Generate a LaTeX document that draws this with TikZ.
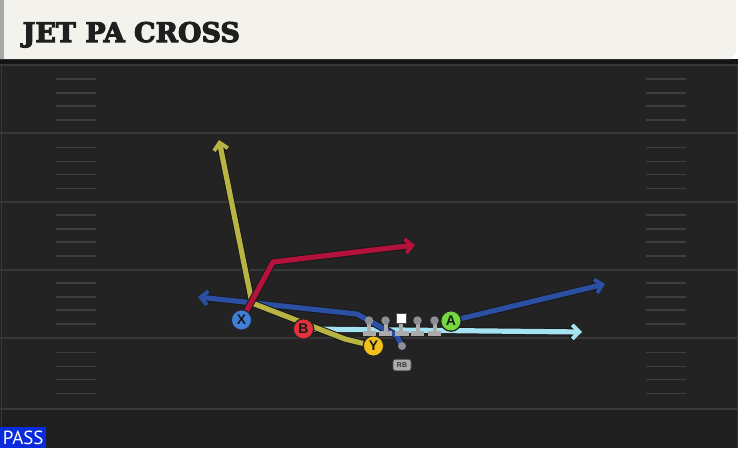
\documentclass[tikz,border=0pt]{standalone}
\usepackage{fontspec}
\usetikzlibrary{arrows.meta}
\newfontfamily\titlefont{DejaVu Serif}[BoldFeatures={FakeBold=4}]
\newfontfamily\markfont{Liberation Sans}
\newfontfamily\passfont{PT Sans}

\definecolor{fieldbg}{HTML}{232323}
\definecolor{fielddark}{HTML}{1F1F1F}
\definecolor{headbg}{HTML}{F4F2EC}
\definecolor{headedge}{HTML}{A8A8A8}
\definecolor{yardgrey}{HTML}{383838}
\definecolor{hashgrey}{HTML}{3E3E3E}
\definecolor{routeyellow}{HTML}{B8B443}
\definecolor{routered}{HTML}{B3123A}
\definecolor{routeblue}{HTML}{2B4FA3}
\definecolor{routecyan}{HTML}{A6E3F0}
\definecolor{dotblue}{HTML}{3F7FD8}
\definecolor{dotred}{HTML}{E2333D}
\definecolor{dotyellow}{HTML}{F2C21B}
\definecolor{dotgreen}{HTML}{74D93F}
\definecolor{olgrey}{HTML}{ABABAB}
\definecolor{olhead}{HTML}{8E8E96}
\definecolor{passblue}{HTML}{0A2BDC}

\pgfdeclarelayer{field}
\pgfdeclarelayer{routes}
\pgfsetlayers{field,routes,main}

\tikzset{
  route/.style={draw=#1, line width=5.2pt, line join=round,
    preaction={draw=black!90, line width=7.2pt}},
  tip/.style={-{Straight Barb[length=7pt, width=14pt, line width=0pt 0.75]}},
  player/.style={circle, draw=black!85, line width=1.3pt, inner sep=0pt,
    minimum size=20.5pt, text=black!90,
    font=\markfont\bfseries\fontsize{14}{14}\selectfont},
  olman/.style={circle, fill=olhead, inner sep=0pt, minimum size=8.5pt},
  snapbox/.style={rectangle, fill=white, draw=black!70, line width=0.5pt,
    inner sep=0pt, minimum size=10pt},
  rbtag/.style={rectangle, rounded corners=2.5pt, fill=olgrey, draw=black!70,
    line width=0.6pt, inner sep=0pt, minimum width=18pt, minimum height=11.5pt,
    text=black!80, font=\markfont\bfseries\fontsize{7}{7}\selectfont},
  passbox/.style={rectangle, fill=passblue, text=white, inner sep=0pt,
    minimum width=46pt, minimum height=20.5pt,
    font=\passfont\fontsize{19}{19}\selectfont}
}

\newcommand{\yardline}[1]{
\draw [yardgrey, line width=2pt] (0,#1) -- (738,#1);
}
\newcommand{\hashmark}[1]{
\draw [hashgrey, line width=1.6pt] (56,#1) -- (96,#1);
\draw [hashgrey, line width=1.6pt] (646,#1) -- (686,#1);
}
\newcommand{\hashes}[1]{
\hashmark{#1+14}
\hashmark{#1+28}
\hashmark{#1+41}
\hashmark{#1+55}
}
\newcommand{\lineman}[2]{
\fill [olgrey] (#2-6.5,330.5) rectangle (#2+6.5,336);
\fill [olgrey] (#2-2,323) rectangle (#2+2,331);
\node [olman] (#1) at (#2,320.5) {};
}
\newcommand{\player}[5]{
\node [player, fill=#4] (#1) at (#2,#3) {#5};
}

\begin{document}
\begin{tikzpicture}[x=1pt, y=-1pt]
\useasboundingbox (0,0) rectangle (738,448);

\begin{pgfonlayer}{field}
\fill [fieldbg] (0,59) rectangle (738,448);
\fill [fielddark] (0,409) rectangle (738,448);
\fill [black!92] (0,59) rectangle (738,63.5);
\fill [headbg] (0,0) -- (736,0) -- (736,53) -- (731,59) -- (0,59) -- cycle;
\fill [headedge] (0,0) rectangle (3.5,59);
\draw [yardgrey, line width=1pt] (1,63.5) -- (1,448);
\draw [yardgrey, line width=1pt] (737,63.5) -- (737,448);

\yardline{65}
\yardline{132.7}
\yardline{201.7}
\yardline{270}
\yardline{338}
\yardline{409}

\hashes{65}
\hashes{133.5}
\hashes{201}
\hashes{269}
\hashes{338.5}
\end{pgfonlayer}

\node [anchor=base west, text=black!88,
  font=\titlefont\bfseries\fontsize{27}{27}\selectfont] (title) at (19,42) {JET PA CROSS};

% players
\player{X}{241.5}{320}{dotblue}{X}
\player{B}{303.5}{329}{dotred}{B}
\player{Y}{373.5}{346}{dotyellow}{Y}
\player{A}{451}{321}{dotgreen}{A}

% line
\lineman{lt}{369}
\lineman{lg}{385.5}
\fill [olgrey] (394.5,330.5) rectangle (408.5,336);
\fill [olgrey] (399,323) rectangle (403,331);
\node [snapbox] (snap) at (401,318.5) {};
\lineman{rg}{417.5}
\lineman{rt}{434.5}

% back
\node [olman, minimum size=8pt] (rbspot) at (402,346) {};
\node [rbtag] (rb) at (402,365) {RB};

\coordinate (cyanend) at (582,332);
\coordinate (flatend) at (605,284);
\coordinate (rbdip) at (397,336);
\coordinate (rbslide) at (357,314);
\coordinate (rbend) at (198,297);
\coordinate (ybend) at (345,339);
\coordinate (ycut) at (252,303);
\coordinate (yend) at (219,140);
\coordinate (xbreak) at (273,262);
\coordinate (xend) at (415,245);

\begin{pgfonlayer}{routes}
\draw [route=routecyan, tip] (B.center) -- (cyanend);
\draw [route=routeblue, tip] (A.center) -- (flatend);
\draw [route=routeblue, tip] (rbspot.center) -- (rbdip) -- (rbslide) -- (rbend);
\draw [route=routeyellow, tip] (Y.center) -- (ybend) -- (ycut) -- (yend);
\draw [route=routered, tip] (X.center) -- (xbreak) -- (xend);
\end{pgfonlayer}

\node [passbox, anchor=south west] (pass) at (0,448) {PASS};
\end{tikzpicture}
\end{document}
